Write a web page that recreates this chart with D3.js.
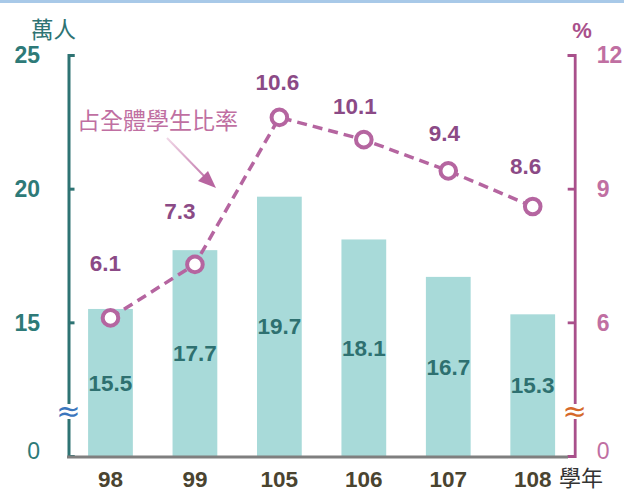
<!DOCTYPE html>
<html><head><meta charset="utf-8">
<script src="https://cdn.jsdelivr.net/npm/d3@7"></script>
<style>body{margin:0;background:#fff}svg{display:block}</style>
</head><body>
<svg id="c" width="624" height="492"></svg>
<script>
// ---- data ----
const categories = ["98","99","105","106","107","108"];
const students = [15.5, 17.7, 19.7, 18.1, 16.7, 15.3];   // 萬人
const ratio = [6.1, 7.3, 10.6, 10.1, 9.4, 8.6];           // %
const leftTicks = [15, 20, 25];
const rightTicks = [6, 9, 12];
const leftUnit = "萬人", rightUnit = "%", xUnit = "學年";
const noteText = "占全體學生比率";

// ---- layout ----
const svg = d3.select("#c");
const sans = "'Liberation Sans', Arial, sans-serif";
const cjk = "'Noto Sans CJK TC', 'Noto Sans CJK SC', sans-serif";
const axL = 68.5, axR = 574.7, plotTop = 55, base = 456;
const teal = "#2e7373", purple = "#a9508b", pink = "#c06fa2", lblPurple = "#8b4a86";

svg.append("rect").attr("x",0).attr("y",0).attr("width",624).attr("height",3).attr("fill","#a8c9e8");

const x = d3.scaleBand().domain(categories).range([axL, axR]).paddingInner(0.47).paddingOuter(0.232);
const yL = d3.scaleLinear().domain([10, 25]).range([base, plotTop]);
const yR = d3.scaleLinear().domain([3, 12]).range([base, plotTop]);

// bars
svg.selectAll("rect.bar").data(students).join("rect").attr("class","bar")
  .attr("x",(d,i)=>x(categories[i])).attr("width",x.bandwidth())
  .attr("y",d=>yL(d)).attr("height",d=>base+1-yL(d)).attr("fill","#a8dad9");
svg.selectAll("text.bl").data(students).join("text").attr("class","bl")
  .attr("x",(d,i)=>x(categories[i])+x.bandwidth()/2)
  .attr("y",d=>(yL(d)+base)/2).attr("dy","0.36em")
  .attr("text-anchor","middle").attr("font-family",sans).attr("font-weight","bold")
  .attr("font-size",22.5).attr("fill","#2e7070").text(d=>d.toFixed(1));

// left axis
const gL = svg.append("g").attr("transform",`translate(${axL},0)`)
  .call(d3.axisLeft(yL).tickValues([10].concat(leftTicks)).tickSizeInner(-6).tickSizeOuter(-6)
    .tickPadding(28.5).tickFormat(d=>d===10?"0":d));
gL.selectAll("path,line").attr("stroke",teal).attr("stroke-width",3);
gL.selectAll("text").attr("font-family",sans).attr("font-size",23).attr("fill","#2e7a78")
  .attr("font-weight",d=>d===10?"normal":"bold").attr("dy",d=>d===10?"0.1em":"0.34em");

// right axis
const gR = svg.append("g").attr("transform",`translate(${axR},0)`)
  .call(d3.axisRight(yR).tickValues([3].concat(rightTicks)).tickSizeInner(-7).tickSizeOuter(-7)
    .tickPadding(22).tickFormat(d=>d===3?"0":d));
gR.selectAll("path,line").attr("stroke",purple).attr("stroke-width",2.8);
gR.selectAll("text").attr("font-family",sans).attr("font-size",23).attr("fill",pink)
  .attr("font-weight",d=>d===3?"normal":"bold").attr("dy",d=>d===3?"0.1em":"0.34em");

// x axis
svg.append("line").attr("x1",67).attr("x2",568).attr("y1",base+1).attr("y2",base+1)
  .attr("stroke","#7f7f7f").attr("stroke-width",3);
svg.selectAll("text.cat").data(categories).join("text").attr("class","cat")
  .attr("x",d=>x(d)+x.bandwidth()/2).attr("y",487).attr("text-anchor","middle")
  .attr("font-family",sans).attr("font-weight","bold").attr("font-size",22.5).attr("fill","#4a4430").text(d=>d);
svg.append("text").attr("x",559).attr("y",486).attr("font-family",cjk).attr("font-size",22)
  .attr("fill","#333").text(xUnit);

// units
svg.append("text").attr("x",31).attr("y",38).attr("font-family",cjk).attr("font-size",22.5)
  .attr("fill",teal).text(leftUnit);
svg.append("text").attr("x",582).attr("y",38).attr("text-anchor","middle").attr("font-family",sans)
  .attr("font-weight","bold").attr("font-size",22).attr("fill",purple).text(rightUnit);

// axis break marks
[[axL,"#3b76bd"],[axR,"#d5692a"]].forEach(([cx,col])=>{
  svg.append("rect").attr("x",cx-4).attr("y",404).attr("width",8).attr("height",15).attr("fill","#fff");
  svg.append("text").attr("x",cx).attr("y",411).attr("dy","0.35em").attr("text-anchor","middle")
    .attr("font-family","'DejaVu Sans', sans-serif").attr("font-size",29).attr("fill",col).text("\u2248");
});

// line
const px = (d,i)=>x(categories[i])+x.bandwidth()/2;
svg.append("path").datum(ratio)
  .attr("d",d3.line().x(px).y(d=>yR(d)))
  .attr("fill","none").attr("stroke","#b565a0").attr("stroke-width",3.5).attr("stroke-dasharray","10,6");
svg.selectAll("circle.pt").data(ratio).join("circle").attr("class","pt")
  .attr("cx",px).attr("cy",d=>yR(d)).attr("r",7.8)
  .attr("fill","#fff").attr("stroke","#b565a0").attr("stroke-width",4);
const lblDx = [-5,-15,-2,-9,-4,-7], lblDy = [-55,-54,-35,-34,-38,-41];
svg.selectAll("text.pl").data(ratio).join("text").attr("class","pl")
  .attr("x",(d,i)=>px(d,i)+lblDx[i]).attr("y",(d,i)=>yR(d)+lblDy[i]).attr("dy","0.36em")
  .attr("text-anchor","middle").attr("font-family",sans).attr("font-weight","bold")
  .attr("font-size",22.5).attr("fill",lblPurple).text(d=>d.toFixed(1));

// annotation
svg.append("text").attr("x",77).attr("y",121).attr("dy","0.36em").attr("font-family",cjk)
  .attr("font-size",23).attr("fill",pink).text(noteText);
const defs = svg.append("defs");
const gr = defs.append("linearGradient").attr("id","ag").attr("gradientUnits","userSpaceOnUse")
  .attr("x1",167).attr("y1",138).attr("x2",215).attr("y2",187);
gr.append("stop").attr("offset",0).attr("stop-color","#f0d6e6");
gr.append("stop").attr("offset",1).attr("stop-color","#b865a0");
svg.append("line").attr("x1",167).attr("y1",138).attr("x2",205).attr("y2",177)
  .attr("stroke","url(#ag)").attr("stroke-width",2);
svg.append("path").attr("d","M216,188 L198,181 L208,171 Z").attr("fill","#b865a0");
</script>
</body></html>
